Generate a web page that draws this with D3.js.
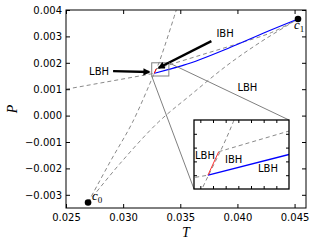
<!DOCTYPE html>
<html><head><meta charset="utf-8">
<script src="https://cdn.jsdelivr.net/npm/d3@7"></script>
<style>body{margin:0;background:#fff}</style>
</head><body><svg id="c" width="316" height="247"></svg>
<script>
// ---- data ----
const xTicks = [0.025, 0.030, 0.035, 0.040, 0.045];
const yTicks = [-0.003, -0.002, -0.001, 0.000, 0.001, 0.002, 0.003, 0.004];
const insetXTicks = [0.0326, 0.0328, 0.0330, 0.0332, 0.0334, 0.0336, 0.0338];
const insetYTicks = [0.0016, 0.0017, 0.0018, 0.0019];

const blueT = [0.03272, 0.0340, 0.0353, 0.0394, 0.0423, 0.0453];
const blueP = [0.00160, 0.00175, 0.00191, 0.00259, 0.00313, 0.00366];
const redT = [0.03272, 0.03289];
const redP = [0.00160, 0.00177];
// dashed curves
const d1T = [0.02693, 0.0289, 0.0308, 0.03264, 0.03312, 0.03465];
const d1P = [-0.00329, -0.00172, -0.00027, 0.001514, 0.001986, 0.0040];
const d2T = [0.02693, 0.02974, 0.03307, 0.03588, 0.03912, 0.04202, 0.0453];
const d2P = [-0.00329, -0.00181, -0.000253, 0.000772, 0.001911, 0.002785, 0.00366];
const d3T = [0.0250, 0.03272];
const d3P = [0.00100, 0.00160];
const d4T = [0.03289, 0.0340, 0.0370, 0.0400, 0.0430, 0.0453];
const d4P = [0.00177, 0.00192, 0.00232, 0.00272, 0.00315, 0.00366];
// critical points
const critNames = ["0", "1"];
const critT = [0.02693, 0.0453];
const critP = [-0.00329, 0.00366];
// zoom box
const boxT = [0.0325, 0.0340];
const boxP = [0.0015, 0.0020];
// annotations (main)
const annText = ["IBH", "LBH", "LBH"];
const annT = [0.03816, 0.02702, 0.0400];
const annP = [0.002975, 0.001532, 0.000924];
const arrowFromT = [0.03772, 0.02912];
const arrowFromP = [0.002823, 0.001684];
const arrowToT = [0.03289, 0.03254];
const arrowToP = [0.00176, 0.001646];
// annotations (inset)
const inText = ["LBH", "IBH", "LBH"];
const inT = [0.032516, 0.03299, 0.03351];
const inP = [0.001714, 0.001688, 0.001623];

// ---- drawing ----
const svg = d3.select("#c");
const L = 66, R = 306, T0 = 10, B = 208;
const x = d3.scaleLinear([0.025, 0.046], [L, R]);
const y = d3.scaleLinear([-0.0035, 0.004], [B, T0]);
const font = "DejaVu Sans";
const fmt = v => d3.format(".3f")(v).replace("-", "\u2212");

const defs = svg.append("defs");
defs.append("clipPath").attr("id", "mc").append("rect")
  .attr("x", L).attr("y", T0).attr("width", R - L).attr("height", B - T0);
defs.append("marker").attr("id", "ah").attr("viewBox", "0 0 10 10")
  .attr("refX", 8).attr("refY", 5).attr("markerWidth", 3.6).attr("markerHeight", 3.0)
  .attr("orient", "auto").append("path").attr("d", "M0,0L10,5L0,10z").attr("fill", "#000");

const zip = (a, b) => a.map((v, i) => [v, b[i]]);
const mkLine = (sx, sy, curve) => d3.line().x(d => sx(d[0])).y(d => sy(d[1])).curve(curve || d3.curveMonotoneX);

const g = svg.append("g").attr("clip-path", "url(#mc)");
const dashStyle = sel => sel.attr("fill", "none").attr("stroke", "#8a8a8a").attr("stroke-width", 1).attr("stroke-dasharray", "4,3");
const dashed = [[d1T, d1P], [d2T, d2P], [d3T, d3P], [d4T, d4P]];
dashed.forEach(([a, b]) => g.append("path").attr("d", mkLine(x, y, d3.curveCatmullRom)(zip(a, b))).call(dashStyle));
g.append("path").attr("d", mkLine(x, y)(zip(blueT, blueP))).attr("fill", "none").attr("stroke", "#0000ff").attr("stroke-width", 1.2);
g.append("path").attr("d", mkLine(x, y, d3.curveLinear)(zip(redT, redP))).attr("fill", "none").attr("stroke", "#ff0000").attr("stroke-width", 1);

// zoom box
g.append("rect").attr("x", x(boxT[0])).attr("y", y(boxP[1]))
  .attr("width", x(boxT[1]) - x(boxT[0])).attr("height", y(boxP[0]) - y(boxP[1]))
  .attr("fill", "none").attr("stroke", "#808080").attr("stroke-width", 1);

// annotations
annText.forEach((s, i) => svg.append("text").attr("x", x(annT[i])).attr("y", y(annP[i]))
  .attr("font-family", font).attr("font-size", 10).text(s));
arrowFromT.forEach((t, i) => {
  const x1 = x(t), y1 = y(arrowFromP[i]), x2 = x(arrowToT[i]), y2 = y(arrowToP[i]);
  const dx = x2 - x1, dy = y2 - y1, len = Math.hypot(dx, dy);
  const k = (len - 3) / len;
  svg.append("line").attr("x1", x1).attr("y1", y1).attr("x2", x1 + dx * k).attr("y2", y1 + dy * k)
    .attr("stroke", "#000").attr("stroke-width", 2.4).attr("marker-end", "url(#ah)");
});

// axes (ticks inward on all sides)
const axStyle = (sel) => { sel.select(".domain").remove(); sel.selectAll("text").attr("font-family", font).attr("font-size", 10).attr("fill", "#000"); sel.selectAll("line").attr("stroke", "#000"); };
svg.append("g").attr("transform", `translate(${L},0)`).call(d3.axisLeft(y).tickValues(yTicks).tickSize(-4).tickPadding(4).tickFormat(fmt)).call(axStyle);
svg.append("g").attr("transform", `translate(${R},0)`).call(d3.axisRight(y).tickValues(yTicks).tickSize(-4).tickFormat("")).call(axStyle);
svg.append("g").attr("transform", `translate(0,${B})`).call(d3.axisBottom(x).tickValues(xTicks).tickSize(-4).tickPadding(6).tickFormat(fmt)).call(axStyle);
svg.append("g").attr("transform", `translate(0,${T0})`).call(d3.axisTop(x).tickValues(xTicks).tickSize(-4).tickFormat("")).call(axStyle);
svg.append("rect").attr("x", L).attr("y", T0).attr("width", R - L).attr("height", B - T0)
  .attr("fill", "none").attr("stroke", "#000").attr("stroke-width", 1);

// critical points and labels (on top)
critT.forEach((t, i) => {
  svg.append("circle").attr("cx", x(t)).attr("cy", y(critP[i])).attr("r", 3.3).attr("fill", "#000");
});
const cl0 = svg.append("text").attr("x", x(critT[0]) + 4).attr("y", y(critP[0]) - 2)
  .attr("font-family", "Liberation Serif").attr("font-size", 13).attr("font-style", "italic").attr("fill", "#000").text("c");
cl0.append("tspan").attr("dy", 3).attr("font-size", 9).attr("font-style", "normal").text(critNames[0]);
const cl1 = svg.append("text").attr("x", x(critT[1]) - 4).attr("y", y(critP[1]) + 10)
  .attr("font-family", "Liberation Serif").attr("font-size", 13).attr("font-style", "italic").attr("fill", "#000").text("c");
cl1.append("tspan").attr("dy", 3).attr("font-size", 9).attr("font-style", "normal").text(critNames[1]);

svg.append("text").attr("x", (L + R) / 2).attr("y", 237).attr("text-anchor", "middle")
  .attr("font-family", "Liberation Serif").attr("font-style", "italic").attr("font-size", 14).text("T");
svg.append("text").attr("transform", `translate(17,${(T0 + B) / 2}) rotate(-90)`).attr("text-anchor", "middle")
  .attr("font-family", "Liberation Serif").attr("font-style", "italic").attr("font-size", 14).text("P");

// ---- inset ----
const IL = 194, IR = 289, IT = 120, IB = 189;
const ix = d3.scaleLinear(boxT, [IL, IR]);
const iy = d3.scaleLinear(boxP, [IB, IT]);
// connector lines
svg.append("line").attr("x1", x(boxT[1])).attr("y1", y(boxP[1])).attr("x2", IR).attr("y2", IT)
  .attr("stroke", "#808080").attr("stroke-width", 1);
svg.append("line").attr("x1", x(boxT[0])).attr("y1", y(boxP[0])).attr("x2", IL).attr("y2", IB)
  .attr("stroke", "#808080").attr("stroke-width", 1);
defs.append("clipPath").attr("id", "ic").append("rect").attr("x", IL).attr("y", IT).attr("width", IR - IL).attr("height", IB - IT);
svg.append("rect").attr("x", IL).attr("y", IT).attr("width", IR - IL).attr("height", IB - IT).attr("fill", "#fff");
const ig = svg.append("g").attr("clip-path", "url(#ic)");
dashed.forEach(([a, b]) => ig.append("path").attr("d", mkLine(ix, iy, d3.curveCatmullRom)(zip(a, b))).call(dashStyle));
ig.append("path").attr("d", mkLine(ix, iy)(zip(blueT, blueP))).attr("fill", "none").attr("stroke", "#0000ff").attr("stroke-width", 1.3);
ig.append("path").attr("d", mkLine(ix, iy, d3.curveLinear)(zip(redT, redP))).attr("fill", "none").attr("stroke", "#ff3030").attr("stroke-width", 1);
inText.forEach((s, i) => svg.append("text").attr("x", ix(inT[i])).attr("y", iy(inP[i]))
  .attr("font-family", font).attr("font-size", 10).text(s));
svg.append("g").attr("transform", `translate(${IL},0)`).call(d3.axisLeft(iy).tickValues(insetYTicks).tickSize(-3).tickFormat("")).call(axStyle);
svg.append("g").attr("transform", `translate(${IR},0)`).call(d3.axisRight(iy).tickValues(insetYTicks).tickSize(-3).tickFormat("")).call(axStyle);
svg.append("g").attr("transform", `translate(0,${IB})`).call(d3.axisBottom(ix).tickValues(insetXTicks).tickSize(-3).tickFormat("")).call(axStyle);
svg.append("g").attr("transform", `translate(0,${IT})`).call(d3.axisTop(ix).tickValues(insetXTicks).tickSize(-3).tickFormat("")).call(axStyle);
svg.append("rect").attr("x", IL).attr("y", IT).attr("width", IR - IL).attr("height", IB - IT)
  .attr("fill", "none").attr("stroke", "#000").attr("stroke-width", 1.3);
</script></body></html>
